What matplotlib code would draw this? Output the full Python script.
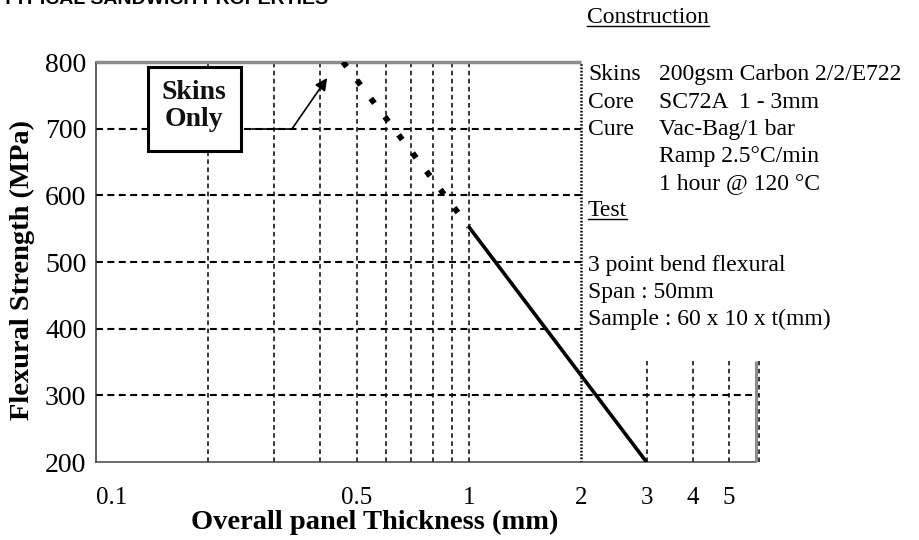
import matplotlib
matplotlib.use('Agg')
import matplotlib.pyplot as plt
from matplotlib.patches import Rectangle
from matplotlib.lines import Line2D
from matplotlib.ticker import NullLocator, FixedLocator, FixedFormatter

plt.rcParams['font.family'] = ['Liberation Serif', 'DejaVu Serif']
plt.rcParams['lines.scale_dashes'] = False

# ---- data ----
skins_only_thickness = [0.46, 1.0]     # dotted (extrapolated) part
skins_only_strength = [800, 553]
sandwich_thickness = [1.0, 3.0]        # measured part
sandwich_strength = [553, 200]

x_ticks = [0.1, 0.5, 1, 2, 3, 4, 5]
x_tick_labels = ['0.1', '0.5', '1', '2', '3', '4', '5']
y_ticks = [200, 300, 400, 500, 600, 700, 800]
y_tick_labels = ['200', '300', '400', '500', '600', '700', '800']
grid_x_full = [0.2, 0.3, 0.4, 0.5, 0.6, 0.7, 0.8, 0.9, 1.0]
grid_x_low = [3, 4, 5, 6]
grid_y = [400, 500, 600, 700]

W, H = 920, 540
fig = plt.figure(figsize=(W / 100, H / 100), dpi=100)
ax = fig.add_axes([96 / W, 78 / H, 660 / W, 400 / H])
ax.set_xscale('log')
ax.set_xlim(0.1, 5.9)
ax.set_ylim(200, 800)

ax.xaxis.set_major_locator(FixedLocator(x_ticks))
ax.xaxis.set_major_formatter(FixedFormatter(x_tick_labels))
ax.xaxis.set_minor_locator(NullLocator())
ax.set_yticks(y_ticks)
ax.set_yticklabels(y_tick_labels)
ax.tick_params(axis='x', length=0, pad=18, labelsize=18)
ax.tick_params(axis='y', length=0, pad=7, labelsize=20)
for lbl in ax.get_xticklabels():
    if lbl.get_text() == '0.1':
        lbl.set_ha('left')

for s in ['top', 'right']:
    ax.spines[s].set_visible(False)
ax.spines['left'].set_color('#333333')
ax.spines['left'].set_linewidth(1.1)
ax.spines['bottom'].set_color('#444444')
ax.spines['bottom'].set_linewidth(1.1)

# borders (grey)
ax.hlines(800, 0.1, 2, colors='#8c8c8c', lw=2.5, clip_on=False, zorder=3)
ax.vlines(5.9, 200, 352, colors='#8c8c8c', lw=2.2, clip_on=False, zorder=3)

# grid
ax.vlines(grid_x_full, 200, 800, colors='k', lw=1.1, linestyles=[(0, (3.3, 2.5))], zorder=1)
ax.vlines(grid_x_low, 200, 352, colors='k', lw=1.1, linestyles=[(0, (3.3, 2.5))], zorder=1, clip_on=False)
ax.vlines(2, 200, 800, colors='k', lw=1.8, linestyles=[(0, (1.2, 1.2))], zorder=1)
ax.hlines(grid_y, 0.1, 2, colors='k', lw=1.5, linestyles=[(0, (5, 3.2))], zorder=1)
ax.hlines(300, 0.1, 6, colors='k', lw=1.5, linestyles=[(0, (5, 3.2))], zorder=1, clip_on=False)

# data lines
ax.plot(skins_only_thickness, skins_only_strength, color='k', lw=4.2,
        linestyle=(0, (4.3, 12.2)), dash_capstyle='butt', zorder=4)
ax.plot(sandwich_thickness, sandwich_strength, color='k', lw=2.6, zorder=4,
        solid_capstyle='butt')

# Skins Only box
ax.add_patch(Rectangle((0.0788, 0.7775), 0.1409, 0.21, transform=ax.transAxes,
                       facecolor='white', edgecolor='k', lw=2.2, zorder=5))
ax.text(0.149, 0.89, 'Skins\nOnly', transform=ax.transAxes, ha='center', va='center',
        fontsize=20, fontweight='bold', linespacing=1.1, color='#111111', zorder=6)
ax.plot([0.262, 0.336], [700, 700], color='k', lw=1.2, zorder=6)
ax.annotate('', xy=(0.417, 776), xytext=(0.336, 700),
            arrowprops=dict(arrowstyle='-|>', color='k', lw=1.2, mutation_scale=18,
                            shrinkA=0, shrinkB=0), zorder=6)

# axis labels
ax.set_xlabel('Overall panel Thickness (mm)', fontsize=20.5, fontweight='bold')
ax.xaxis.label.set_va('center')
ax.xaxis.set_label_coords((375 - 96) / 660, (462 - 522) / 400)
ax.set_ylabel('Flexural Strength (MPa)', fontsize=20.5, fontweight='bold')
ax.yaxis.label.set_va('center')
ax.yaxis.set_label_coords((22 - 96) / 660, (462 - 270) / 400)

# title (cut off at top, as in the reference)
fig.text(2 / W, 1 - 4 / H, 'TYPICAL SANDWICH PROPERTIES', family='Liberation Sans',
         fontweight='bold', fontsize=14, va='baseline', ha='left')

# right-hand text block
def ftext(x, y, s, **kw):
    return fig.text(x / W, 1 - y / H, s, fontsize=17, va='baseline', ha='left', **kw)

t_con = ftext(587, 23, 'Construction')
ftext(588, 80, 'Skins')
ftext(659, 80, '200gsm Carbon 2/2/E722')
ftext(588, 108, 'Core')
ftext(659, 108, 'SC72A  1 - 3mm')
ftext(588, 135, 'Cure')
ftext(659, 135, 'Vac-Bag/1 bar')
ftext(659, 162, 'Ramp 2.5°C/min')
ftext(659, 189, '1 hour @ 120 °C')
t_test = ftext(588, 216, 'Test')
ftext(588, 271, '3 point bend flexural')
ftext(588, 298, 'Span : 50mm')
ftext(588, 325, 'Sample : 60 x 10 x t(mm)')

fig.canvas.draw()
r = fig.canvas.get_renderer()
for t, ybase in [(t_con, 23), (t_test, 216)]:
    bb = t.get_window_extent(r)
    yl = 1 - (ybase + 2.5) / H
    fig.add_artist(Line2D([bb.x0 / W, bb.x1 / W], [yl, yl], transform=fig.transFigure,
                          color='k', lw=1.0))

fig.savefig('out.png', dpi=100)
